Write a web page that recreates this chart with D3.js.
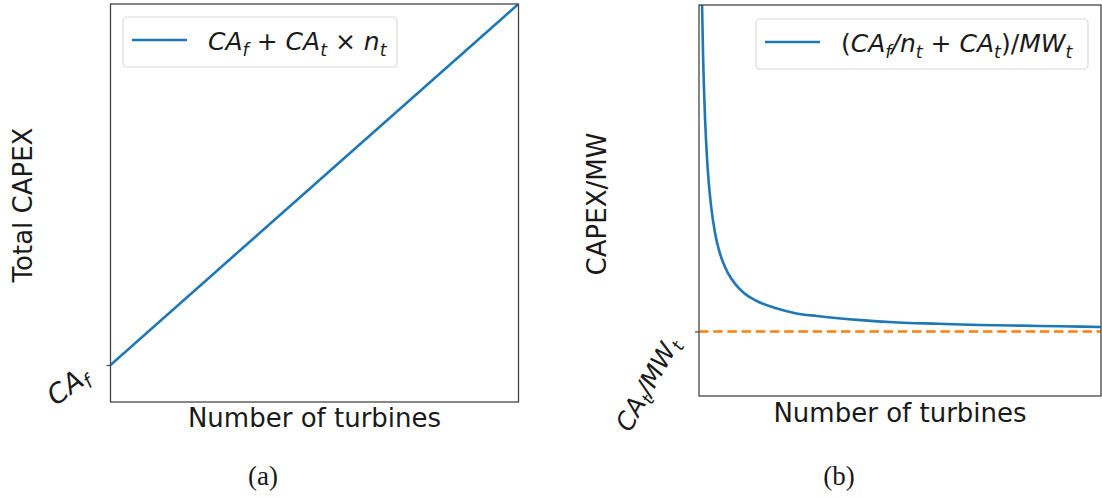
<!DOCTYPE html>
<html>
<head>
<meta charset="utf-8">
<script src="https://cdn.jsdelivr.net/npm/d3@7"></script>
<style>
  html, body { margin: 0; padding: 0; background: #fff; }
  svg { display: block; }
</style>
</head>
<body>
<svg id="fig" width="1102" height="497"></svg>
<script>
// ---- panel (a): total CAPEX versus number of turbines ----
const turbinesA = [0, 100];
const totalCapex = [10, 107.5];
const capexDomainA = [0, 107.5];
const tickValueA = [10];            // CA_f

// ---- panel (b): CAPEX per MW versus number of turbines ----
const turbinesB = [1.5, 1.75, 2, 2.5, 3, 3.5, 4, 5, 6, 7, 8, 10, 12, 15, 20, 25, 30, 40, 50, 60, 70, 80, 90, 100];
const capexPerMW = [7.19, 6.07, 5.29, 4.29, 3.66, 3.24, 2.93, 2.51, 2.24, 2.06, 1.92, 1.73, 1.6, 1.48, 1.36, 1.28, 1.24, 1.18, 1.14, 1.12, 1.1, 1.09, 1.08, 1.07];
const asymptote = [1];               // CA_t / MW_t
const capexDomainB = [0, 6.06];
const turbineDomainB = [1, 100];

const BLUE = "#1f77b4", ORANGE = "#ff7f0e", FONT = "DejaVu Sans";
const svg = d3.select("#fig");

// mathtext-like label: italic symbols, upright operators, lowered subscripts
function mathText(text, parts, size) {
  let shift = 0;
  parts.forEach(p => {
    const ts = text.append("tspan").text(p.t)
      .attr("font-style", p.up ? "normal" : "italic");
    const target = p.sub ? size * 0.22 : 0;
    if (target !== shift) ts.attr("dy", target - shift);
    shift = target;
    if (p.sub) ts.attr("font-size", size * 0.7);
  });
}

function frame(g, x, y) {
  const [x0, x1] = x.range(), [y0, y1] = y.range();
  g.append("rect")
    .attr("x", x0).attr("y", y1).attr("width", x1 - x0).attr("height", y0 - y1)
    .attr("fill", "none").attr("stroke", "#454545").attr("stroke-width", 1.3);
}

function legend(g, x, y, w, h, parts, size, textX) {
  g.append("rect").attr("x", x).attr("y", y).attr("width", w).attr("height", h)
    .attr("rx", 4).attr("fill", "#fff").attr("stroke", "#d9d9d9").attr("stroke-width", 1.2);
  g.append("line").attr("x1", x + 9).attr("x2", x + 64)
    .attr("y1", y + h / 2 - 2).attr("y2", y + h / 2 - 2)
    .attr("stroke", BLUE).attr("stroke-width", 2.6);
  const t = g.append("text").attr("x", textX).attr("y", y + h / 2 + 8)
    .attr("font-family", FONT).attr("font-size", size).attr("fill", "#1a1a1a");
  mathText(t, parts, size);
}

// ================= panel (a) =================
const xA = d3.scaleLinear().domain([turbinesA[0], turbinesA[1]]).range([110.5, 518.5]);
const yA = d3.scaleLinear().domain(capexDomainA).range([402, 4]);
const gA = svg.append("g");

svg.append("clipPath").attr("id", "clipA").append("rect")
  .attr("x", 110.5).attr("y", 4).attr("width", 408).attr("height", 398);

gA.append("path")
  .datum(turbinesA.map((n, i) => [n, totalCapex[i]]))
  .attr("clip-path", "url(#clipA)")
  .attr("d", d3.line().x(d => xA(d[0])).y(d => yA(d[1])))
  .attr("fill", "none").attr("stroke", BLUE).attr("stroke-width", 2.6);

const axA = gA.append("g").attr("transform", `translate(${xA.range()[0]},0)`)
  .call(d3.axisLeft(yA).tickValues(tickValueA).tickSize(4).tickFormat(""));
axA.select(".domain").remove();
axA.selectAll(".tick line").attr("stroke", "#454545").attr("stroke-width", 1.2);

frame(gA, xA, yA);

const tA = gA.append("text")
  .attr("transform", `translate(91,380) rotate(-37)`)
  .attr("text-anchor", "end").attr("font-family", FONT).attr("font-size", 27).attr("fill", "#1a1a1a");
mathText(tA, [{t: "CA"}, {t: "f", sub: true}], 27);

legend(gA, 123, 17, 274, 50,
  [{t: "CA"}, {t: "f", sub: true}, {t: " + ", up: true}, {t: "CA"}, {t: "t", sub: true},
   {t: " × ", up: true}, {t: "n"}, {t: "t", sub: true}], 25, 208);

gA.append("text").attr("x", 314.5).attr("y", 427).attr("text-anchor", "middle")
  .attr("font-family", FONT).attr("font-size", 26).attr("fill", "#1a1a1a")
  .text("Number of turbines");
gA.append("text").attr("transform", "translate(32,205) rotate(-90)").attr("text-anchor", "middle")
  .attr("font-family", FONT).attr("font-size", 26).attr("fill", "#1a1a1a")
  .text("Total CAPEX");
gA.append("text").attr("x", 263).attr("y", 485).attr("text-anchor", "middle")
  .attr("font-family", "Liberation Serif").attr("font-size", 27).attr("fill", "#1a1a1a")
  .text("(a)");

// ================= panel (b) =================
const xB = d3.scaleLinear().domain(turbineDomainB).range([699, 1101]);
const yB = d3.scaleLinear().domain(capexDomainB).range([396, 5]);
const gB = svg.append("g");

svg.append("clipPath").attr("id", "clipB").append("rect")
  .attr("x", 699).attr("y", 5).attr("width", 402).attr("height", 391);

gB.append("line")
  .attr("x1", xB(turbineDomainB[0])).attr("x2", xB(turbineDomainB[1]))
  .attr("y1", yB(asymptote[0])).attr("y2", yB(asymptote[0]))
  .attr("stroke", ORANGE).attr("stroke-width", 2.6).attr("stroke-dasharray", "9.5,4.7");

gB.append("path")
  .datum(turbinesB.map((n, i) => [n, capexPerMW[i]]))
  .attr("clip-path", "url(#clipB)")
  .attr("d", d3.line().x(d => xB(d[0])).y(d => yB(d[1])).curve(d3.curveMonotoneX))
  .attr("fill", "none").attr("stroke", BLUE).attr("stroke-width", 2.6);

const axB = gB.append("g").attr("transform", `translate(${xB.range()[0]},0)`)
  .call(d3.axisLeft(yB).tickValues(asymptote).tickSize(4).tickFormat(""));
axB.select(".domain").remove();
axB.selectAll(".tick line").attr("stroke", "#454545").attr("stroke-width", 1.2);

frame(gB, xB, yB);

const tB = gB.append("text")
  .attr("transform", `translate(680,343) rotate(-61)`)
  .attr("text-anchor", "end").attr("font-family", FONT).attr("font-size", 25).attr("fill", "#1a1a1a");
mathText(tB, [{t: "CA"}, {t: "t", sub: true}, {t: "/", up: false}, {t: "MW"}, {t: "t", sub: true}], 25);

legend(gB, 756, 19, 332, 50,
  [{t: "(", up: true}, {t: "CA"}, {t: "f", sub: true}, {t: "/"}, {t: "n"}, {t: "t", sub: true},
   {t: " + ", up: true}, {t: "CA"}, {t: "t", sub: true}, {t: ")/", up: true}, {t: "MW"}, {t: "t", sub: true}], 25, 841);

gB.append("text").attr("x", 900).attr("y", 422).attr("text-anchor", "middle")
  .attr("font-family", FONT).attr("font-size", 26).attr("fill", "#1a1a1a")
  .text("Number of turbines");
gB.append("text").attr("transform", "translate(606,204) rotate(-90)").attr("text-anchor", "middle")
  .attr("font-family", FONT).attr("font-size", 26).attr("fill", "#1a1a1a")
  .text("CAPEX/MW");
gB.append("text").attr("x", 839).attr("y", 485).attr("text-anchor", "middle")
  .attr("font-family", "Liberation Serif").attr("font-size", 27).attr("fill", "#1a1a1a")
  .text("(b)");
</script>
</body>
</html>
